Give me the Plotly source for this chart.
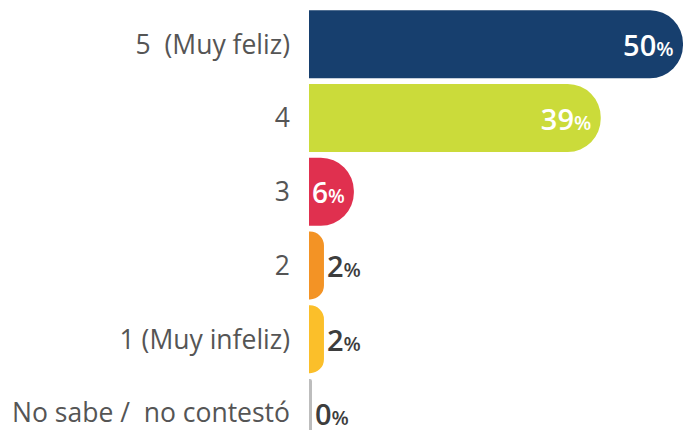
import plotly.graph_objects as go

categories = ["5\u00a0 (Muy feliz)", "4", "3", "2", "1 (Muy infeliz)", "No sabe /\u00a0 no contestó"]
values = [50, 39, 6, 2, 2, 0]
colors = ["#173f6e", "#cbdb3a", "#e0304f", "#f39325", "#fbbf2a", "#bdbdbd"]
text_pos = ["inside", "inside", "inside", "outside", "outside", "outside"]
text_colors = ["#ffffff", "#ffffff", "#ffffff", "#3d3d3d", "#3d3d3d", "#3d3d3d"]

min_visible = 0.4  # so a 0% bar still shows as a sliver
drawn = [max(v, min_visible) for v in values]
labels = [f"{v}<span style='font-size:20px'>%</span>" for v in values]

fig = go.Figure(go.Bar(
    y=categories, x=drawn, orientation="h",
    marker=dict(color=colors, line=dict(width=0), cornerradius=34),
    width=0.92,
    text=labels, textposition=text_pos, insidetextanchor="end",
    textfont=dict(family="Open Sans", size=29, color=text_colors, weight=600),
    outsidetextfont=dict(family="Open Sans", size=29, color="#3d3d3d", weight=600),
    insidetextfont=dict(family="Open Sans", size=29, color="#ffffff", weight=600),
    textangle=0, constraintext="none", cliponaxis=False,
    hoverinfo="skip",
))

fig.update_layout(
    width=683, height=430,
    margin=dict(l=309, r=0, t=0, b=0, autoexpand=False),
    paper_bgcolor="#ffffff", plot_bgcolor="#ffffff",
    showlegend=False,
    xaxis=dict(range=[0, 50], visible=False, fixedrange=True),
    yaxis=dict(type="category", categoryarray=categories, automargin=False,
               range=[5.23, -0.6], showgrid=False, zeroline=False,
               showline=False, ticks="", ticklabelstandoff=18,
               tickfont=dict(family="Open Sans", size=26.5, color="#555555")),
)

fig.write_html("out.html", config={"displayModeBar": False},
               post_script="document.body.style.margin='0';")
